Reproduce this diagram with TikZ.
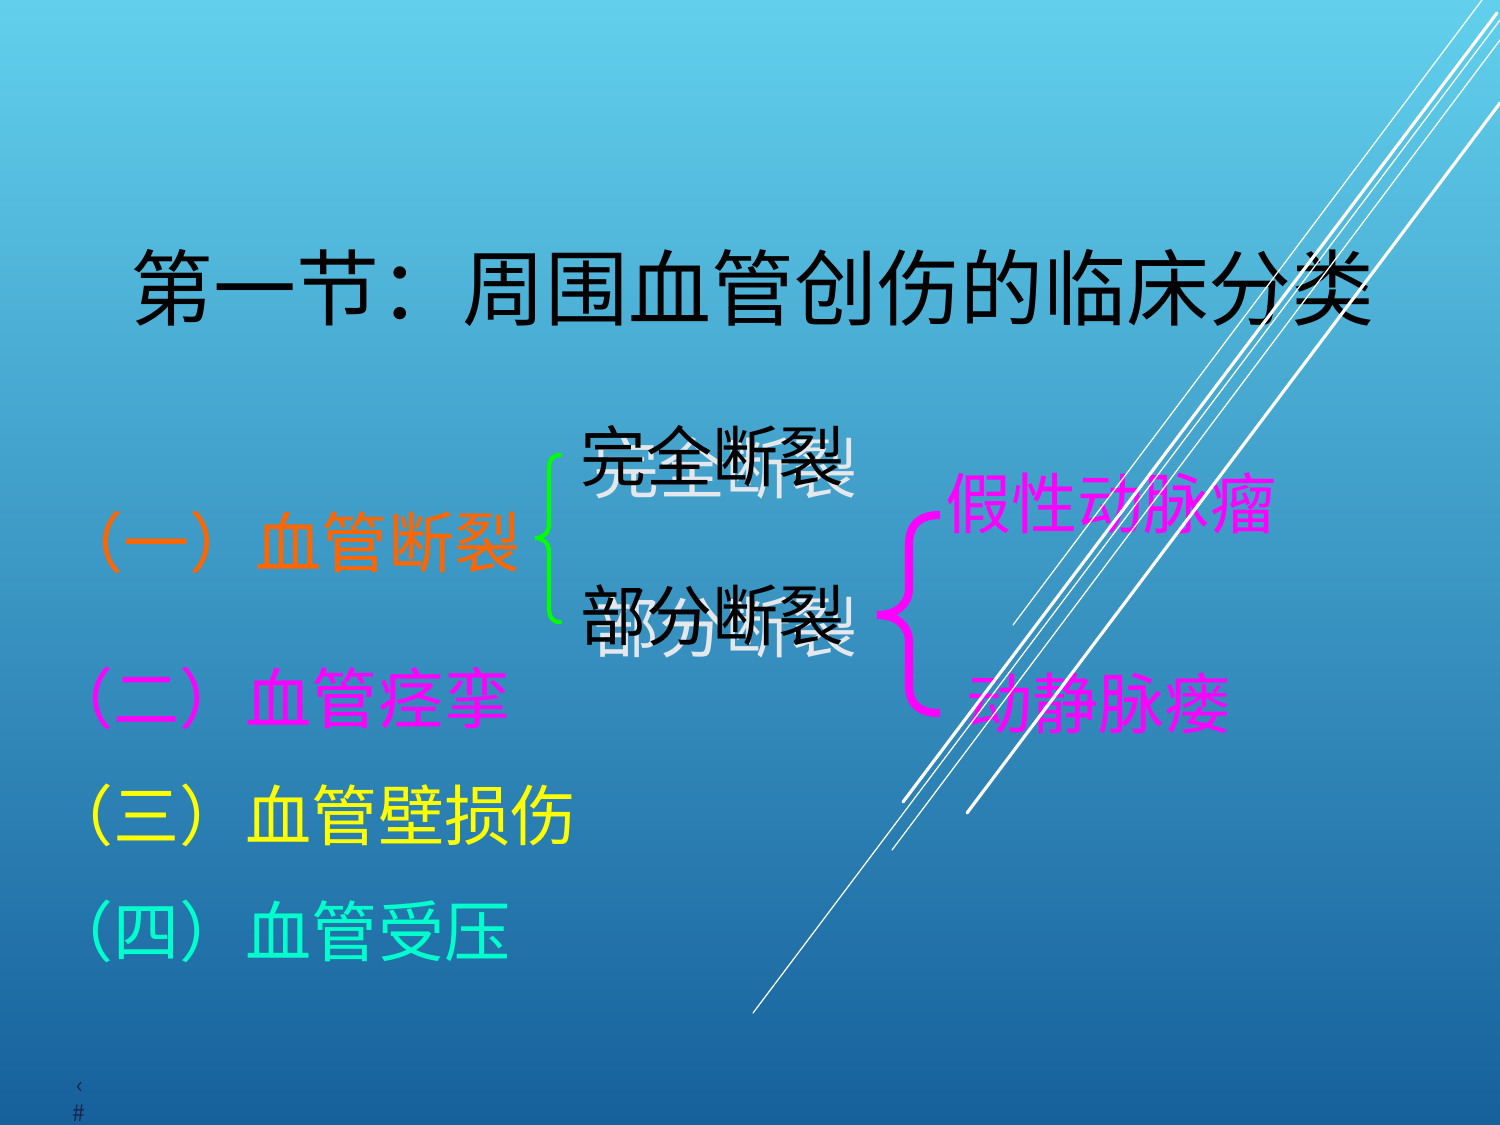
\documentclass[tikz,border=0pt]{standalone}
\usepackage{fontspec}
\usepackage{tikz}
\newfontfamily\cjk{Noto Sans CJK SC}
\definecolor{bgtop}{RGB}{98,208,237}
\definecolor{bgmid}{RGB}{58,158,204}
\definecolor{bgbot}{RGB}{22,96,156}
\definecolor{orng}{RGB}{255,102,0}
\definecolor{mgnt}{RGB}{255,0,255}
\definecolor{ylw}{RGB}{255,255,0}
\definecolor{trq}{RGB}{0,255,204}
\definecolor{grn}{RGB}{0,255,0}
\definecolor{ghostgray}{RGB}{228,232,236}
\definecolor{navy}{RGB}{25,38,75}

\begin{document}
\begin{tikzpicture}
	 [x=0.1mm,y=-0.1mm,every node/.style={inner sep=0pt,anchor=west}]
	\tikzset{ttl/.style={font=\cjk\fontsize{23.6}{28}\selectfont,text=black},
	  item/.style={font=\cjk\fontsize{18.8}{22}\selectfont},
	  ghost/.style={item,text=ghostgray},
	  pgnum/.style={font=\cjk\fontsize{6.5}{8}\selectfont,text=navy},
	  thinln/.style={white,line width=0.35pt,line cap=round},
	  thickln/.style={white,line width=0.9pt,line cap=round}}

	\shade[top color=bgtop,middle color=bgmid,bottom color=bgbot] (0,0) rectangle (1500,1125);
	\useasboundingbox (0,0) rectangle (1500,1125);

	  \node[ttl] (ttl) at (130,288) {第一节：周围血管创伤的临床分类};

	  \node[item,text=orng] (i1) at (57,542) {（一）血管断裂};
	  \node[item,text=mgnt] (i2) at (47,698) {（二）血管痉挛};
	  \node[item,text=ylw] (i3) at (47,815) {（三）血管壁损伤};
	  \node[item,text=trq] (i4) at (47,931) {（四）血管受压};

	  \node[ghost] (g1) at (593,468) {完全断裂};
	  \node[ghost] (g2) at (593,627) {部分断裂};
	  \node[item,text=black] (c1) at (580,456) {完全断裂};
	  \node[item,text=black] (c2) at (580,615) {部分断裂};

	  \node[item,text=mgnt] (p1) at (945,503) {假性动脉瘤};
	  \node[item,text=mgnt] (p2) at (966,703) {动静脉瘘};

	  \node[pgnum] (pg1) at (76,1088) {‹};
	  \node[pgnum] (pg2) at (72,1113) {\#};

	% braces
	\draw[grn,line width=1.2pt,line cap=round] (560,455) .. controls (552,455) and (549,460) .. (549,470)
	  -- (549,524) .. controls (549,533) and (543,538) .. (535,538)
	  .. controls (543,538) and (549,543) .. (549,552) -- (549,607)
	  .. controls (549,617) and (552,622) .. (560,622);
	\draw[mgnt,line width=2.3pt] (940,515) .. controls (920,515) and (909,524) .. (909,545)
	  -- (909,588) .. controls (909,605) and (896,615) .. (877,615)
	  .. controls (896,615) and (909,625) .. (909,642) -- (909,685)
	  .. controls (909,705) and (920,713) .. (940,713);

	% lines
	  \coordinate (la1) at (1013,625);  \coordinate (la2) at (1482,0);
	  \coordinate (lb1) at (753,1013);  \coordinate (lb2) at (1500,20);
	  \coordinate (ld1) at (892,850);   \coordinate (ld2) at (1500,40);
	  \coordinate (lc1) at (903,802);   \coordinate (lc2) at (1497,13);
	  \coordinate (le1) at (967,813);   \coordinate (le2) at (1500,103);

	\foreach \from/\to in {la1/la2,lb1/lb2,ld1/ld2}
    \draw[thinln] (\from) -- (\to);
	\foreach \from/\to in {lc1/lc2,le1/le2}
    \draw[thickln] (\from) -- (\to);

\end{tikzpicture}
\end{document}
